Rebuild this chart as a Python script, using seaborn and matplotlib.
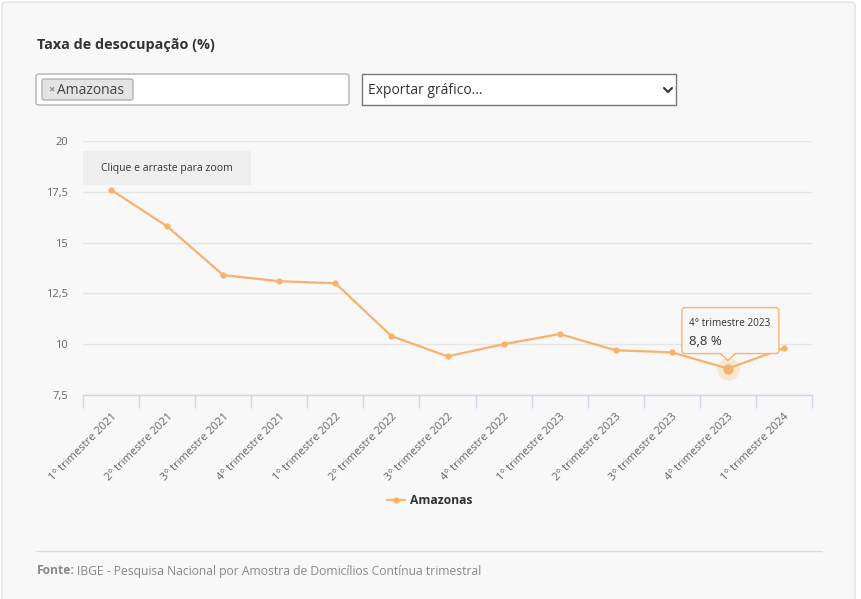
import pandas as pd
import seaborn as sns
import matplotlib.pyplot as plt
from matplotlib.patches import FancyBboxPatch, Rectangle, Polygon
from matplotlib.transforms import ScaledTranslation

# data
quarters = ["1° trimestre 2021", "2° trimestre 2021", "3° trimestre 2021", "4° trimestre 2021",
            "1° trimestre 2022", "2° trimestre 2022", "3° trimestre 2022", "4° trimestre 2022",
            "1° trimestre 2023", "2° trimestre 2023", "3° trimestre 2023", "4° trimestre 2023",
            "1° trimestre 2024"]
amazonas = [17.6, 15.8, 13.4, 13.1, 13.0, 10.4, 9.4, 10.0, 10.5, 9.7, 9.6, 8.8, 9.8]
y_ticks = [7.5, 10, 12.5, 15, 17.5, 20]
y_tick_labels = ["7,5", "10", "12,5", "15", "17,5", "20"]
highlight = 11  # hovered point

df = pd.DataFrame({"Trimestre": quarters, "Taxa": amazonas})

W, H = 861, 599
LINE = "#f7b26b"
PANEL = "#f8f8f8"

sns.set_style("white")
plt.rcParams["font.family"] = ["Open Sans", "DejaVu Sans"]

fig = plt.figure(figsize=(W / 100, H / 100), dpi=100, facecolor="white")


def fx(x):
    return x / W


def fy(y):
    return 1 - y / H


# panel background
fig.patches.append(FancyBboxPatch((fx(2), fy(640)), fx(853), 638 / H,
                                  boxstyle="round,pad=0,rounding_size=0.006",
                                  transform=fig.transFigure, facecolor=PANEL,
                                  edgecolor="#e2e2e2", lw=1, zorder=-5))

# title
fig.text(fx(37), fy(45), "Taxa de desocupação (%)", fontsize=10.4, fontweight="bold",
         color="#333333", va="center", ha="left")

# select boxes
fig.patches.append(FancyBboxPatch((fx(36), fy(105)), fx(313), 31 / H,
                                  boxstyle="round,pad=0,rounding_size=0.004",
                                  transform=fig.transFigure, facecolor="white",
                                  edgecolor="#aaaaaa", lw=0.9, zorder=1))
fig.patches.append(FancyBboxPatch((fx(42), fy(100)), fx(91), 21 / H,
                                  boxstyle="round,pad=0,rounding_size=0.003",
                                  transform=fig.transFigure, facecolor="#e4e4e4",
                                  edgecolor="#aaaaaa", lw=0.9, zorder=2))
fig.text(fx(48), fy(90), "×", fontsize=8, color="#888888", va="center", ha="left",
         fontweight="bold", zorder=3)
fig.text(fx(57), fy(90), "Amazonas", fontsize=10, color="#444444", va="center",
         ha="left", zorder=3)
fig.patches.append(Rectangle((fx(362), fy(105)), fx(314), 31 / H,
                             transform=fig.transFigure, facecolor="white",
                             edgecolor="#777777", lw=1, zorder=1))
fig.text(fx(368), fy(90), "Exportar gráfico...", fontsize=10, color="#333333",
         va="center", ha="left", zorder=3)
fig.lines.append(plt.Line2D([fx(664), fx(668), fx(672)], [fy(88), fy(92), fy(88)],
                            transform=fig.transFigure, color="#333333", lw=1.5, zorder=3))

# chart
ax = fig.add_axes([fx(83), fy(395), fx(812 - 83), (395 - 141) / H])
ax.set_facecolor(PANEL)
sns.lineplot(data=df, x="Trimestre", y="Taxa", ax=ax, color=LINE, lw=1.6,
             marker="o", markersize=4.5, markeredgewidth=0, label="Amazonas", sort=False)

ax.set_xlim(-0.5, len(quarters) - 0.5)
ax.set_ylim(7.5, 20)
ax.set_yticks(y_ticks)
ax.set_yticklabels(y_tick_labels)
ax.set_xticks(range(len(quarters)))
ax.set_xticklabels(quarters, rotation=45, ha="right", va="top", rotation_mode="anchor")
ax.set_xticks([i - 0.5 for i in range(len(quarters) + 1)], minor=True)
ax.tick_params(axis="x", which="major", length=0, pad=12, labelsize=8, labelcolor="#666666")
ax.tick_params(axis="x", which="minor", bottom=True, length=9, width=1, color="#ccd6eb",
               direction="out")
ax.tick_params(axis="y", length=0, pad=11, labelsize=8, labelcolor="#666666")
ax.grid(axis="y", color="#e6e6e6", lw=1)
ax.set_axisbelow(True)
for side in ["top", "right", "left"]:
    ax.spines[side].set_visible(False)
ax.spines["bottom"].set_color("#ccd6eb")
ax.spines["bottom"].set_linewidth(1)
ax.set_xlabel("")
ax.set_ylabel("")

# hovered point
ax.scatter([quarters[highlight]], [amazonas[highlight]], s=260, color=LINE, alpha=0.25,
           lw=0, zorder=4)
ax.scatter([quarters[highlight]], [amazonas[highlight]], s=55, color=LINE, lw=0, zorder=5)

# tooltip anchored to hovered point (inches offsets)
tt = fig.dpi_scale_trans + ScaledTranslation(highlight, amazonas[highlight], ax.transData)
ax.add_patch(FancyBboxPatch((-0.46, 0.15), 0.97, 0.46,
                            boxstyle="round,pad=0,rounding_size=0.03", transform=tt,
                            facecolor="#f7f7f7", edgecolor=LINE, lw=1, zorder=6,
                            clip_on=False, alpha=0.95))
ax.add_patch(Polygon([(-0.07, 0.155), (0, 0.08), (0.07, 0.155)], closed=True, transform=tt,
                     facecolor="#f7f7f7", edgecolor="none", zorder=7, clip_on=False))
ax.plot([-0.075, 0, 0.075], [0.15, 0.08, 0.15], transform=tt, color=LINE, lw=1,
        zorder=7, clip_on=False)
ax.text(-0.39, 0.45, quarters[highlight], transform=tt, fontsize=7.2, color="#333333",
        va="center", ha="left", zorder=8)
ax.text(-0.39, 0.27, "8,8 %", transform=tt, fontsize=9.5, color="#333333",
        va="center", ha="left", zorder=8)

# zoom hint
fig.patches.append(Rectangle((fx(83), fy(185)), fx(168), 34 / H, transform=fig.transFigure,
                             facecolor="#eeeeee", edgecolor="none", zorder=5))
fig.text(fx(167), fy(168), "Clique e arraste para zoom", fontsize=7.5, color="#333333",
         ha="center", va="center", zorder=6)

# legend
leg = ax.legend(loc="center", bbox_to_anchor=(fx(430), fy(501)), bbox_transform=fig.transFigure,
                frameon=False, handlelength=1.5, handletextpad=0.4,
                prop={"weight": "bold", "size": 8.7})
for t in leg.get_texts():
    t.set_color("#333333")

# footer
fig.lines.append(plt.Line2D([fx(36), fx(822)], [fy(551), fy(551)], transform=fig.transFigure,
                            color="#dddddd", lw=1))
fig.text(fx(37), fy(571), "Fonte:", fontsize=8.7, fontweight="bold", color="#888888",
         va="center", ha="left")
fig.text(fx(77), fy(571), "IBGE - Pesquisa Nacional por Amostra de Domicílios Contínua trimestral",
         fontsize=8.7, color="#888888", va="center", ha="left")

fig.savefig("out.png", dpi=100, facecolor=fig.get_facecolor())
